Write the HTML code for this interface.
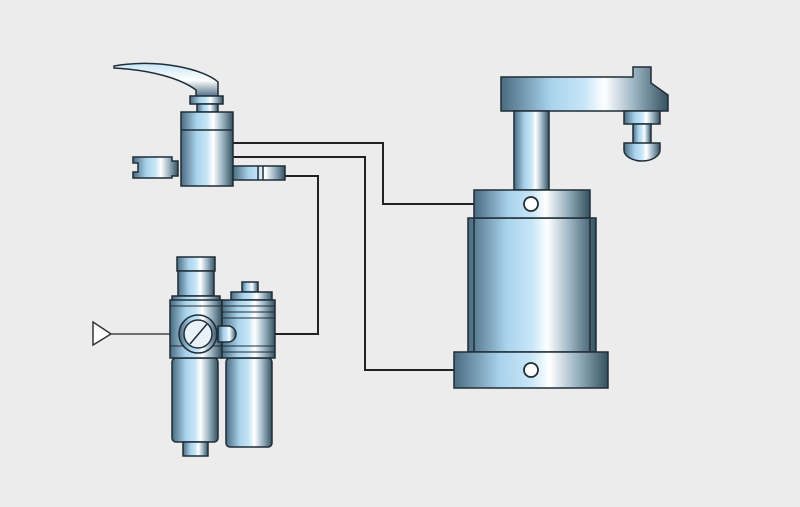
<!DOCTYPE html>
<html><head><meta charset="utf-8"><style>html,body{margin:0;padding:0;background:#ececec}svg{display:block}</style></head><body>
<svg width="800" height="507" viewBox="0 0 800 507" xmlns="http://www.w3.org/2000/svg">
<defs>
<linearGradient id="g" x1="0" x2="1" y1="0" y2="0">
<stop offset="0" stop-color="#4a6b80"/><stop offset="0.3" stop-color="#a9d3ec"/><stop offset="0.5" stop-color="#c8e6f7"/><stop offset="0.62" stop-color="#ffffff"/><stop offset="0.8" stop-color="#9ab3c2"/><stop offset="1" stop-color="#35505f"/>
</linearGradient>
<linearGradient id="gv" x1="0" x2="0" y1="0" y2="1">
<stop offset="0" stop-color="#c8e6f7"/><stop offset="0.5" stop-color="#ffffff"/><stop offset="1" stop-color="#4a6b80"/>
</linearGradient>
</defs>
<rect width="800" height="507" fill="#ececec"/>
<g fill="none" stroke="#222" stroke-width="2">
<polyline points="233,143 383,143 383,204 524,204"/>
<polyline points="233,157 365,157 365,370 524,370"/>
<polyline points="285,176 318,176 318,334 272,334"/>
<line x1="110" y1="334" x2="172" y2="334" stroke-width="1.3"/>
</g>
<polygon points="93,322 93,345 111,334" fill="#fff" stroke="#333" stroke-width="1.5"/>
<g stroke="#1f2d36" stroke-width="1.5">
<!-- clamp -->
<path d="M501,77 H633 V67 H651 V83 L668,95 V111 H501 Z" fill="url(#g)"/>
<rect x="624" y="111" width="36" height="13" fill="url(#g)"/>
<rect x="633" y="124" width="18" height="20" fill="url(#g)"/>
<path d="M624,143 H660 V150 A18,11 0 0 1 624,150 Z" fill="url(#g)"/>
<rect x="514" y="111" width="35" height="79" fill="url(#g)"/>
<rect x="468" y="218" width="128" height="134" fill="url(#g)"/>
<line x1="474" y1="218" x2="474" y2="352"/><line x1="590" y1="218" x2="590" y2="352"/>
<rect x="474" y="190" width="116" height="28" fill="url(#g)"/>
<rect x="454" y="352" width="154" height="36" fill="url(#g)"/>
<!-- valve -->
<path d="M114,66 C160,58 205,70 218,82 V97 H196 V90 C180,78 150,70 114,68 Z" fill="url(#gv)"/>
<rect x="190" y="96" width="33" height="8" fill="url(#g)"/>
<rect x="197" y="104" width="21" height="8" fill="url(#g)"/>
<rect x="181" y="112" width="52" height="74" fill="url(#g)"/>
<line x1="181" y1="130" x2="233" y2="130"/>
<path d="M133,157 H172 V161 H178 V176 H172 V178 H133 V172 H138 V163 H133 Z" fill="url(#g)"/>
<rect x="233" y="166" width="52" height="14" fill="url(#g)"/>
<line x1="258" y1="166" x2="258" y2="180"/><line x1="263" y1="166" x2="263" y2="180"/>
<!-- FRL -->
<rect x="177" y="257" width="38" height="14" fill="url(#g)"/>
<rect x="178" y="271" width="36" height="25" fill="url(#g)"/>
<rect x="172" y="296" width="48" height="6" fill="url(#g)"/>
<rect x="172" y="358" width="46" height="84" rx="4" fill="url(#g)"/>
<rect x="183" y="442" width="25" height="14" fill="url(#g)"/>
<rect x="242" y="282" width="16" height="10" fill="url(#g)"/>
<path d="M231,300 V292 H272 V300 Z" fill="url(#g)"/>
<rect x="226" y="358" width="46" height="89" rx="4" fill="url(#g)"/>
<rect x="170" y="300" width="52" height="58" fill="url(#g)"/>
<rect x="222" y="300" width="53" height="58" fill="url(#g)"/>
<g stroke-width="1">
<line x1="170" y1="306" x2="275" y2="306"/><line x1="222" y1="312" x2="275" y2="312"/><line x1="222" y1="318" x2="275" y2="318"/>
<line x1="222" y1="346" x2="275" y2="346"/><line x1="222" y1="352" x2="275" y2="352"/><line x1="170" y1="346" x2="222" y2="346"/>
</g>
<circle cx="198" cy="334" r="19" fill="url(#g)"/>
<circle cx="198" cy="334" r="14" fill="#e8f2f8"/>
<line x1="190" y1="344" x2="207" y2="324"/>
<path d="M218,326 H228 A8,8 0 0 1 228,342 H218 Z" fill="url(#g)"/>
</g>
<g fill="#fff" stroke="#1f2d36" stroke-width="1.8">
<circle cx="531" cy="204" r="7"/><circle cx="531" cy="370" r="7"/>
</g>
</svg>
</body></html>
